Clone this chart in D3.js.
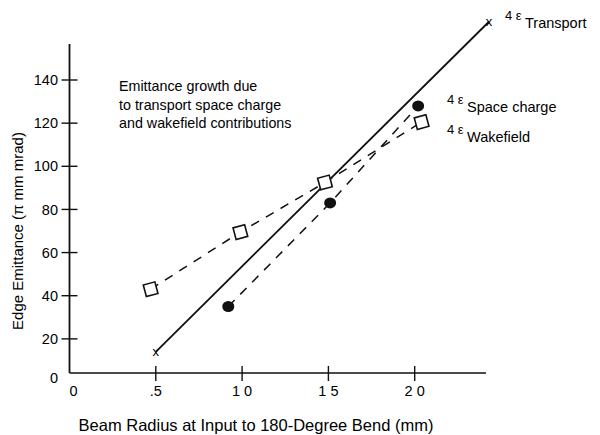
<!DOCTYPE html>
<html>
<head>
<meta charset="utf-8">
<script src="https://cdn.jsdelivr.net/npm/d3@7"></script>
<style>
  body { margin: 0; background: #fff; }
  svg { font-family: "Liberation Sans", Arial, sans-serif; }
</style>
</head>
<body>
<div id="plot"></div>
<script>
// data (beam radius in mm, emittance in pi mm mrad)
var transportX = [0.5, 2.43];
var transportY = [14, 167];
var spaceX = [0.92, 1.51, 2.02];
var spaceY = [35, 83, 128];
var wakeX = [0.47, 0.99, 1.48, 2.04];
var wakeY = [43, 69.5, 92.5, 120.5];
var xTicks = [0.5, 1.0, 1.5, 2.0];
var xTickLabels = ["0", ".5", "1 0", "1 5", "2 0"];
var yTicks = [20, 40, 60, 80, 100, 120, 140];

var width = 600, height = 435;
var svg = d3.select("#plot").append("svg")
    .attr("width", width)
    .attr("height", height);

// scales
var x = d3.scaleLinear().domain([0, 2.5]).range([69.5, 501]);
var y = d3.scaleLinear().domain([0, 140]).range([382, 80]);
var axisY = 373;

// axes lines
svg.append("line")
    .attr("x1", x(0)).attr("x2", x(0))
    .attr("y1", 44).attr("y2", axisY)
    .attr("stroke", "#111").attr("stroke-width", 1.8);
svg.append("line")
    .attr("x1", x(0)).attr("x2", 486)
    .attr("y1", axisY).attr("y2", axisY)
    .attr("stroke", "#111").attr("stroke-width", 1.6);

// y ticks
svg.selectAll(".ytick").data(yTicks).enter().append("line")
    .attr("x1", x(0) - 8).attr("x2", x(0) + 8)
    .attr("y1", function(d) { return y(d); })
    .attr("y2", function(d) { return y(d); })
    .attr("stroke", "#111").attr("stroke-width", 1.4);
svg.selectAll(".ylab").data([0].concat(yTicks)).enter().append("text")
    .attr("x", 58)
    .attr("y", function(d) { return d === 0 ? 378 : y(d); })
    .attr("dy", "0.35em")
    .attr("text-anchor", "end")
    .style("font-size", "14.5px")
    .text(function(d) { return d; });

// x ticks
svg.selectAll(".xtick").data(xTicks).enter().append("line")
    .attr("x1", function(d) { return x(d); })
    .attr("x2", function(d) { return x(d); })
    .attr("y1", axisY - 7).attr("y2", axisY + 8)
    .attr("stroke", "#111").attr("stroke-width", 1.4);
svg.selectAll(".xlab").data([0].concat(xTicks)).enter().append("text")
    .attr("x", function(d, i) { return i === 0 ? x(0) + 4 : x(d); })
    .attr("y", 396)
    .attr("text-anchor", "middle")
    .style("font-size", "14.5px")
    .text(function(d, i) { return xTickLabels[i]; });

// axis titles
svg.append("text")
    .attr("x", 256).attr("y", 431)
    .attr("text-anchor", "middle")
    .style("font-size", "16.5px")
    .text("Beam Radius at Input to 180-Degree Bend (mm)");
svg.append("text")
    .attr("transform", "translate(23,231) rotate(-90)")
    .attr("text-anchor", "middle")
    .style("font-size", "15px")
    .text("Edge Emittance (\u03c0 mm mrad)");

// annotation
svg.append("text")
    .attr("x", 119).attr("y", 91)
    .style("font-size", "14.3px")
    .selectAll("tspan")
    .data(["Emittance growth due", "to transport space charge", "and wakefield contributions"])
    .enter().append("tspan")
    .attr("x", 119)
    .attr("dy", function(d, i) { return i === 0 ? 0 : 18.5; })
    .text(function(d) { return d; });

var line = d3.line()
    .x(function(d) { return x(d[0]); })
    .y(function(d) { return y(d[1]); });

// transport: solid line
var transport = d3.zip(transportX, transportY);
svg.append("path")
    .attr("d", line(transport))
    .attr("fill", "none")
    .attr("stroke", "#111")
    .attr("stroke-width", 1.8);
svg.selectAll(".tx").data(transport).enter().append("text")
    .attr("x", function(d) { return x(d[0]); })
    .attr("y", function(d) { return y(d[1]); })
    .attr("dy", "0.3em")
    .attr("text-anchor", "middle")
    .style("font-size", "13px")
    .text("x");

// wakefield: dashed line with open squares
var wake = d3.zip(wakeX, wakeY);
svg.append("path")
    .attr("d", line(wake))
    .attr("fill", "none")
    .attr("stroke", "#111")
    .attr("stroke-width", 1.5)
    .attr("stroke-dasharray", "9,8");
svg.selectAll(".sq").data(wake).enter().append("rect")
    .attr("x", -6).attr("y", -6)
    .attr("width", 12).attr("height", 12)
    .attr("transform", function(d) {
      return "translate(" + x(d[0]) + "," + y(d[1]) + ") rotate(-15)";
    })
    .attr("fill", "#fff")
    .attr("stroke", "#111")
    .attr("stroke-width", 1.6);

// space charge: dashed line with filled circles
var space = d3.zip(spaceX, spaceY);
svg.append("path")
    .attr("d", line(space))
    .attr("fill", "none")
    .attr("stroke", "#111")
    .attr("stroke-width", 1.5)
    .attr("stroke-dasharray", "9,8");
svg.selectAll(".dot").data(space).enter().append("ellipse")
    .attr("cx", function(d) { return x(d[0]); })
    .attr("cy", function(d) { return y(d[1]); })
    .attr("rx", 6).attr("ry", 5.5)
    .attr("fill", "#111");

// series labels: 4 eps with subscript name
var labels = [
  {name: "Transport", x: 505, y: 20},
  {name: "Space charge", x: 447, y: 104},
  {name: "Wakefield", x: 447, y: 134}
];
labels.forEach(function(l) {
  svg.append("text")
    .attr("x", l.x).attr("y", l.y)
    .style("font-size", "13px")
    .text("4 \u03b5");
  svg.append("text")
    .attr("x", l.x + 20).attr("y", l.y + 8)
    .style("font-size", "14.5px")
    .text(l.name);
});
</script>
</body>
</html>
